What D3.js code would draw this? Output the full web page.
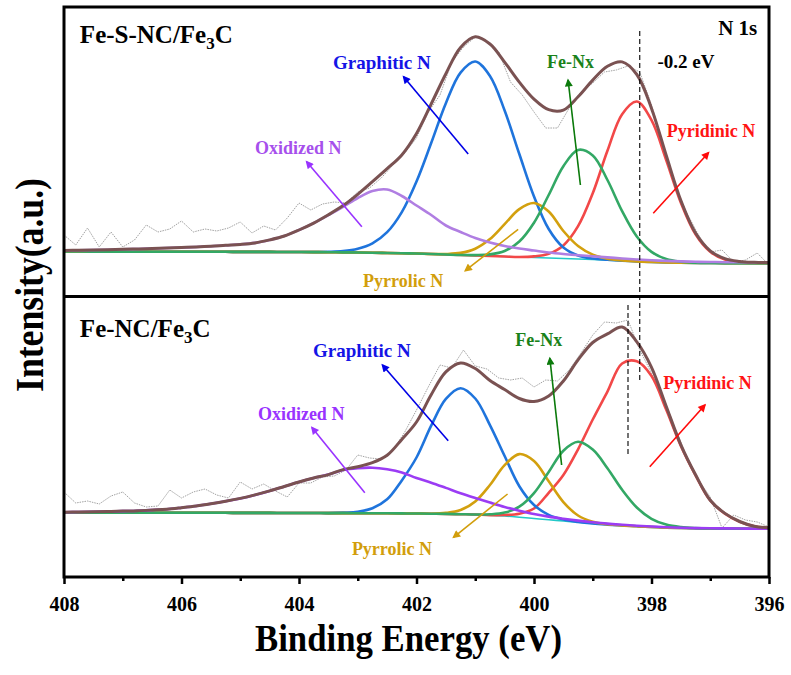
<!DOCTYPE html>
<html>
<head>
<meta charset="utf-8">
<script src="https://cdn.jsdelivr.net/npm/d3@7/dist/d3.min.js"></script>
<style>
  body { margin: 0; background: #fff; }
  svg text { font-family: "Liberation Serif", Tinos, "DejaVu Serif", serif; font-weight: bold; }
</style>
</head>
<body>
<div id="chart"></div>
<script>

// binding energy grid of the fitted curves (eV)
var energy = [408, 407.75, 407.5, 407.25, 407, 406.75, 406.5, 406.25, 406, 405.75,
  405.5, 405.25, 405, 404.75, 404.5, 404.25, 404, 403.75, 403.5, 403.25,
  403, 402.75, 402.5, 402.25, 402, 401.75, 401.5, 401.25, 401, 400.75,
  400.5, 400.25, 400, 399.75, 399.5, 399.25, 399, 398.75, 398.5, 398.25,
  398, 397.75, 397.5, 397.25, 397, 396.75, 396.5, 396.25, 396];

// energy grid of the measured points (eV)
var rawEnergy = [408, 407.8, 407.6, 407.4, 407.2, 407, 406.8, 406.6, 406.4, 406.2,
  406, 405.8, 405.6, 405.4, 405.2, 405, 404.8, 404.6, 404.4, 404.2,
  404, 403.8, 403.6, 403.4, 403.2, 403, 402.8, 402.6, 402.4, 402.2,
  402, 401.8, 401.6, 401.4, 401.2, 401, 400.8, 400.6, 400.4, 400.2,
  400, 399.8, 399.6, 399.4, 399.2, 399, 398.8, 398.6, 398.4, 398.2,
  398, 397.8, 397.6, 397.4, 397.2, 397, 396.8, 396.6, 396.4, 396.2, 396];

var xTicks = [408, 406, 404, 402, 400, 398, 396];
var xMinor = [407, 405, 403, 401, 399, 397];

// ---- Fe-S-NC/Fe3C (top) ----
var s_raw = [62,52,69,50,65,50,57,72,65,68,
  76,65,68,66,69,75,64,71,67,79,
  94,87,93,95,94,105,109,119,132,144,
  159,185,202,235,250,260,255,245,215,202,
  185,169,169,189,205,214,225,227,231,225,
  192,152,112,84,62,45,47,35,37,44,32];
var s_base = [45.5,45.5,45.4,45.4,45.4,45.3,45.3,45.3,45.3,45.2,
  45.2,45.2,45.1,45.1,45.1,45.0,45.0,44.9,44.8,44.6,
  44.5,44.3,44.0,43.8,43.5,43.0,42.5,42.0,41.5,41.0,
  40.5,40.0,39.5,39.0,38.5,38.0,37.5,36.9,36.2,35.5,
  35.0,34.6,34.3,34.1,34.0,33.9,33.9,33.8,33.8];
var s_graphitic = [45.5,45.5,45.4,45.4,45.4,45.3,45.3,45.3,45.3,45.2,
  45.2,45.2,45.1,45.1,45.1,45.0,45.0,45.0,45.2,45.9,
  48.2,53.6,64.8,84.9,115.5,154.0,193.8,224.4,235.5,221.0,
  186.5,143.0,100.5,68.0,49.5,41.5,38.5,37.2,36.2,35.5,
  35.0,34.6,34.3,34.1,34.0,33.9,33.9,33.8,33.8];
var s_oxidized = [46.5,46.8,47.0,47.3,47.7,48.0,48.5,49.0,49.5,50.0,
  50.7,51.7,52.6,54.1,57.1,61.0,67.0,73.9,81.8,90.1,
  99.0,106.0,107.5,101.0,91.5,82.0,71.5,65.0,59.0,54.5,
  51.0,48.5,46.5,44.5,43.0,41.8,40.7,39.6,38.5,37.5,
  36.7,36.1,35.6,35.2,35.0,34.8,34.7,34.5,34.4];
var s_pyrrolic = [45.5,45.5,45.4,45.4,45.4,45.3,45.3,45.3,45.3,45.2,
  45.2,45.2,45.1,45.1,45.1,45.0,45.0,44.9,44.8,44.6,
  44.5,44.3,44.0,43.8,43.5,43.0,43.0,44.1,48.3,57.9,
  72.9,87.9,94.0,85.5,66.0,51.0,42.4,38.3,36.5,35.5,
  35.0,34.6,34.3,34.1,34.0,33.9,33.9,33.8,33.8];
var s_fenx = [45.5,45.5,45.4,45.4,45.4,45.3,45.3,45.3,45.3,45.2,
  45.2,45.2,45.1,45.1,45.1,45.0,45.0,44.9,44.8,44.6,
  44.5,44.3,44.0,43.8,43.5,43.0,42.5,42.0,41.9,42.6,
  46.0,55.5,74.3,102.0,130.8,147.1,141.6,117.0,85.9,60.5,
  45.1,37.9,35.2,34.3,34.0,33.9,33.9,33.8,33.8];
var s_pyridinic = [45.5,45.5,45.4,45.4,45.4,45.3,45.3,45.3,45.3,45.2,
  45.2,45.2,45.1,45.1,45.1,45.0,45.0,44.9,44.8,44.6,
  44.5,44.3,44.0,43.8,43.5,43.0,42.5,42.0,41.5,41.0,
  40.5,40.0,40.6,43.3,51.6,70.8,103.7,146.2,182.8,195.5,
  176.8,137.0,94.3,62.7,45.2,37.4,34.8,34.0,33.8];
var s_fit = [46.5,46.8,47.0,47.3,47.7,48.0,48.5,49.0,49.5,50.0,
  50.7,51.7,52.6,54.1,57.1,61.0,67.0,73.9,82.2,91.4,
  102.7,115.3,128.3,142.1,163.5,193.0,223.3,249.5,260.2,253.0,
  234.9,214.9,197.9,187.3,186.9,200.2,216.9,230.7,235.1,222.5,
  188.6,141.8,96.5,64.0,46.2,38.3,35.6,34.7,34.4];

// ---- Fe-NC/Fe3C (bottom) ----
var n_raw = [86,75,77,74,82,86,75,71,72,88,
  80,86,89,83,80,96,89,94,87,81,
  95,95,101,102,108,123,120,119,128,146,
  168,191,213,210,228,212,209,200,198,200,
  191,198,197,208,225,243,256,255,258,228,
  205,181,150,121,98,81,50,63,58,56,51];
var n_base = [65.5,65.5,65.4,65.4,65.4,65.3,65.3,65.3,65.3,65.2,
  65.2,65.2,65.1,65.1,65.1,65.0,65.0,65.0,64.9,64.9,
  64.8,64.8,64.7,64.6,64.5,64.3,64.1,63.8,63.5,62.9,
  62.0,60.8,59.5,58.2,57.0,55.7,54.5,53.4,52.5,51.7,
  51.0,50.4,50.0,49.7,49.5,49.4,49.3,49.2,49.2];
var n_graphitic = [65.5,65.5,65.4,65.4,65.4,65.3,65.3,65.3,65.3,65.2,
  65.2,65.2,65.1,65.1,65.1,65.0,65.0,65.0,64.9,65.4,
  66.3,69.8,78.7,97.6,120.5,152.3,179.1,189.8,179.5,152.9,
  122.0,91.8,73.0,63.2,58.5,56.1,54.5,53.4,52.5,51.7,
  51.0,50.4,50.0,49.7,49.5,49.4,49.3,49.2,49.2];
var n_oxidized = [65.8,66.0,66.2,66.5,66.9,67.3,68.0,68.8,70.3,72.0,
  74.2,76.7,79.6,83.1,87.1,91.5,96.0,100.0,103.4,107.9,
  109.8,110.3,108.7,105.6,100.0,95.3,90.1,84.8,80.0,75.4,
  71.0,67.3,64.0,61.4,59.3,57.4,55.8,54.4,53.3,52.3,
  51.5,50.8,50.3,49.9,49.7,49.6,49.5,49.3,49.3];
var n_pyrrolic = [65.5,65.5,65.4,65.4,65.4,65.3,65.3,65.3,65.3,65.2,
  65.2,65.2,65.1,65.1,65.1,65.0,65.0,65.0,64.9,64.9,
  64.8,64.8,64.7,64.6,64.5,64.3,65.1,68.0,76.6,93.0,
  112.9,123.9,117.0,96.7,75.9,62.5,56.3,53.7,52.5,51.7,
  51.0,50.4,50.0,49.7,49.5,49.4,49.3,49.2,49.2];
var n_fenx = [65.5,65.5,65.4,65.4,65.4,65.3,65.3,65.3,65.3,65.2,
  65.2,65.2,65.1,65.1,65.1,65.0,65.0,65.0,64.9,64.9,
  64.8,64.8,64.7,64.6,64.5,64.3,64.1,63.8,63.5,63.7,
  65.4,71.3,84.9,106.0,127.3,136.2,128.4,109.8,88.2,70.5,
  59.2,53.4,50.9,49.9,49.5,49.4,49.3,49.2,49.2];
var n_pyridinic = [65.5,65.5,65.4,65.4,65.4,65.3,65.3,65.3,65.3,65.2,
  65.2,65.2,65.1,65.1,65.1,65.0,65.0,65.0,64.9,64.9,
  64.8,64.8,64.7,64.6,64.5,64.3,64.1,63.8,63.5,62.9,
  63.0,64.3,69.5,85.2,103.0,128.7,158.5,186.4,214.5,216.7,
  202.0,168.4,132.0,102.7,77.5,64.4,56.3,51.7,50.2];
var n_fit = [65.8,66.0,66.2,66.5,66.9,67.3,68.0,68.8,70.3,72.0,
  74.2,76.7,79.6,83.1,87.1,91.5,96.0,100.0,103.4,108.4,
  111.3,115.3,122.7,138.6,156.0,183.3,206.1,215.0,209.5,197.5,
  188.5,179.5,176.5,182.0,197.0,218.1,235.5,244.1,251.0,236.1,
  210.7,171.8,133.2,103.2,77.7,64.6,56.5,51.8,50.3];


var W = 791, H = 675;
var left = 64, right = 769, top_ = 7, mid = 296.5, bottom = 577;
var serif = "'Liberation Serif', Tinos, 'DejaVu Serif', serif";

var svg = d3.select("#chart").append("svg")
  .attr("width", W).attr("height", H);

var x = d3.scaleLinear().domain([408, 396]).range([left, right]);
var yTop = d3.scaleLinear().domain([0, 290]).range([297, 7]);
var yBot = d3.scaleLinear().domain([0, 281]).range([578, 297]);

// arrow heads
var defs = svg.append("defs");
function marker(id, color) {
  defs.append("marker")
    .attr("id", id)
    .attr("viewBox", "0 0 10 10")
    .attr("refX", 8).attr("refY", 5)
    .attr("markerWidth", 10).attr("markerHeight", 8)
    .attr("markerUnits", "userSpaceOnUse")
    .attr("orient", "auto")
    .append("path")
    .attr("d", "M0,0 L10,5 L0,10 Z")
    .attr("fill", color);
}
marker("ah_blue", "#0000e6");
marker("ah_purple", "#9933ff");
marker("ah_green", "#0b7a0b");
marker("ah_red", "#ff0a0a");
marker("ah_gold", "#d29e0c");

// drawing order: red, blue, gold, green, purple
var panels = [
  {
    y: yTop, raw: s_raw, base: s_base, fit: s_fit,
    comps: [
      { v: s_pyridinic, color: "#f24848" },
      { v: s_graphitic, color: "#1f74dc" },
      { v: s_pyrrolic, color: "#d3a00e" },
      { v: s_fenx, color: "#33a865" },
      { v: s_oxidized, color: "#b07ee2" }
    ]
  },
  {
    y: yBot, raw: n_raw, base: n_base, fit: n_fit,
    comps: [
      { v: n_pyridinic, color: "#f24848" },
      { v: n_graphitic, color: "#1f74dc" },
      { v: n_pyrrolic, color: "#d3a00e" },
      { v: n_fenx, color: "#33a865" },
      { v: n_oxidized, color: "#9b3cf4" }
    ]
  }
];

panels.forEach(function (p) {
  var g = svg.append("g");
  var line = d3.line()
    .x(function (d) { return x(d[0]); })
    .y(function (d) { return p.y(d[1]); })
    .curve(d3.curveCatmullRom.alpha(0.5));
  var rawLine = d3.line()
    .x(function (d) { return x(d[0]); })
    .y(function (d) { return p.y(d[1]); });

  g.append("path")
    .attr("d", rawLine(d3.zip(rawEnergy, p.raw)))
    .attr("fill", "none")
    .attr("stroke", "#8a8a8a")
    .attr("stroke-width", 0.8)
    .attr("stroke-dasharray", "1.5,1");

  g.append("path")
    .attr("d", line(d3.zip(energy, p.base)))
    .attr("fill", "none")
    .attr("stroke", "#22c8c8")
    .attr("stroke-width", 1.6);

  p.comps.forEach(function (c) {
    g.append("path")
      .attr("d", line(d3.zip(energy, c.v)))
      .attr("fill", "none")
      .attr("stroke", c.color)
      .attr("stroke-width", 2.6);
  });

  g.append("path")
    .attr("d", line(d3.zip(energy, p.fit)))
    .attr("fill", "none")
    .attr("stroke", "#7a5252")
    .attr("stroke-width", 3);
});

// dashed reference lines
svg.append("line")
  .attr("x1", x(398.2)).attr("x2", x(398.2))
  .attr("y1", yTop(266)).attr("y2", yBot(198))
  .attr("stroke", "#000").attr("stroke-width", 1.1)
  .attr("stroke-dasharray", "5,3");
svg.append("line")
  .attr("x1", x(398.4)).attr("x2", x(398.4))
  .attr("y1", yBot(273)).attr("y2", yBot(123))
  .attr("stroke", "#000").attr("stroke-width", 1.1)
  .attr("stroke-dasharray", "5,3");

// annotation arrows, ends given in (energy, intensity)
function arrow(y, e1, v1, e2, v2, color, id) {
  svg.append("line")
    .attr("x1", x(e1)).attr("y1", y(v1))
    .attr("x2", x(e2)).attr("y2", y(v2))
    .attr("stroke", color).attr("stroke-width", 1.6)
    .attr("marker-end", "url(#" + id + ")");
}
arrow(yTop, 401.12, 143, 402.22, 220.3, "#0000e6", "ah_blue");
arrow(yTop, 402.93, 70.3, 403.87, 135.3, "#9933ff", "ah_purple");
arrow(yTop, 399.21, 112, 399.42, 217, "#0b7a0b", "ah_green");
arrow(yTop, 397.97, 83.7, 397.03, 144.3, "#ff0a0a", "ah_red");
arrow(yTop, 400.27, 67.7, 401.17, 26.3, "#d29e0c", "ah_gold");

arrow(yBot, 401.46, 137.3, 402.58, 213, "#0000e6", "ah_blue");
arrow(yBot, 402.88, 85.3, 403.78, 150.5, "#9933ff", "ah_purple");
arrow(yBot, 399.53, 113, 399.73, 219.7, "#0b7a0b", "ah_green");
arrow(yBot, 398.03, 111.3, 397.09, 173, "#ff0a0a", "ah_red");
arrow(yBot, 400.45, 84, 401.37, 40.7, "#d29e0c", "ah_gold");

function label(y, e, v, txt, color, size, anchor) {
  return svg.append("text")
    .attr("x", x(e)).attr("y", y(v))
    .attr("font-family", serif)
    .attr("font-weight", "bold")
    .attr("fill", color)
    .attr("font-size", size)
    .attr("text-anchor", anchor || "start")
    .text(txt);
}
function sampleName(y, e, v, main) {
  var t = svg.append("text")
    .attr("x", x(e)).attr("y", y(v))
    .attr("font-family", serif)
    .attr("font-weight", "bold")
    .attr("font-size", 25).attr("fill", "#000");
  t.append("tspan").text(main + "/Fe");
  t.append("tspan").attr("font-size", 17).attr("dy", 6).text("3");
  t.append("tspan").attr("dy", -6).text("C");
}

sampleName(yTop, 407.73, 254, "Fe-S-NC");
label(yTop, 396.2, 262, "N 1s", "#000", 21, "end");
label(yTop, 397.9, 229, "-0.2 eV", "#000", 19);
label(yTop, 403.42, 228, "Graphitic N", "#1414e6", 19);
label(yTop, 404.75, 143, "Oxidized N", "#a650ec", 18);
label(yTop, 399.78, 229, "Fe-Nx", "#1a821a", 18);
label(yTop, 397.74, 160, "Pyridinic N", "#ff1414", 18);
label(yTop, 402.91, 10, "Pyrrolic N", "#d29e0c", 18);

sampleName(yBot, 407.73, 241, "Fe-NC");
label(yBot, 403.76, 221, "Graphitic N", "#1414e6", 19);
label(yBot, 404.7, 158, "Oxidized N", "#9933ff", 18);
label(yBot, 400.32, 232, "Fe-Nx", "#1a821a", 18);
label(yBot, 397.8, 189, "Pyridinic N", "#ff1414", 18);
label(yBot, 403.1, 23, "Pyrrolic N", "#d29e0c", 18);

// frame
svg.append("rect")
  .attr("x", left).attr("y", top_)
  .attr("width", right - left).attr("height", bottom - top_)
  .attr("fill", "none").attr("stroke", "#000").attr("stroke-width", 3);
svg.append("line")
  .attr("x1", left).attr("x2", right)
  .attr("y1", mid).attr("y2", mid)
  .attr("stroke", "#000").attr("stroke-width", 3);

// x axis
var ax = svg.append("g")
  .attr("transform", "translate(0," + bottom + ")")
  .call(d3.axisBottom(x).tickValues(xTicks).tickSize(7).tickPadding(13)
    .tickFormat(d3.format("d")));
ax.select(".domain").remove();
ax.selectAll(".tick line").attr("stroke-width", 2.5);
ax.selectAll("text")
  .attr("font-size", 20)
  .attr("font-family", serif)
  .attr("font-weight", "bold")
  .attr("fill", "#000");

var axm = svg.append("g")
  .attr("transform", "translate(0," + bottom + ")")
  .call(d3.axisBottom(x).tickValues(xMinor).tickSize(4).tickFormat(""));
axm.select(".domain").remove();
axm.selectAll(".tick line").attr("stroke-width", 2.5);

// axis titles
svg.append("text")
  .attr("x", 408.5).attr("y", 651)
  .attr("text-anchor", "middle")
  .attr("font-family", serif)
  .attr("font-weight", "bold")
  .attr("font-size", 38)
  .attr("textLength", 307)
  .attr("lengthAdjust", "spacingAndGlyphs")
  .text("Binding Energy (eV)");

svg.append("text")
  .attr("transform", "translate(43,285) rotate(-90)")
  .attr("text-anchor", "middle")
  .attr("font-family", serif)
  .attr("font-weight", "bold")
  .attr("font-size", 40)
  .attr("textLength", 214)
  .attr("lengthAdjust", "spacingAndGlyphs")
  .text("Intensity(a.u.)");

</script>
</body>
</html>
